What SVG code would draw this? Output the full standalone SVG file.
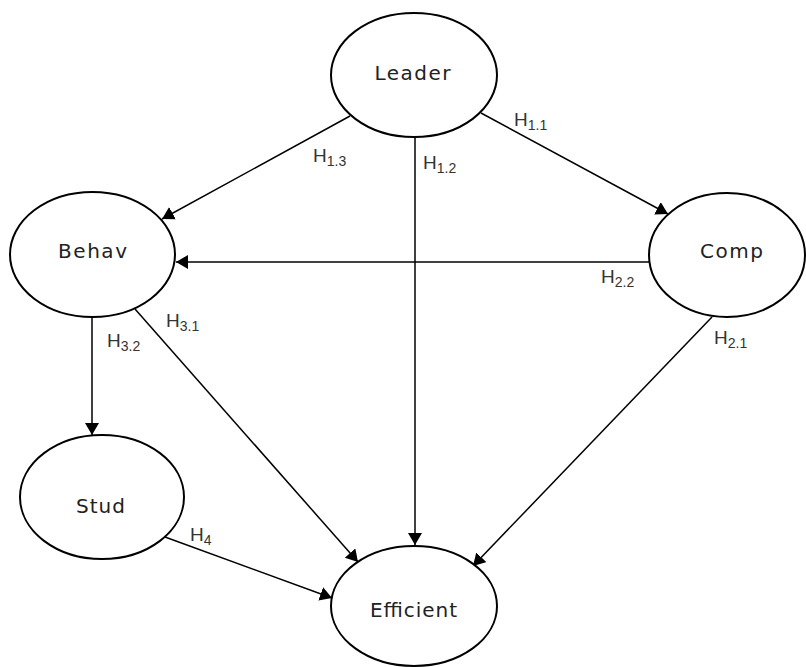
<svg xmlns="http://www.w3.org/2000/svg" width="806" height="667" viewBox="0 0 806 667">
<style>
.node ellipse{fill:#fff;stroke:#000;stroke-width:2}
.node text{font-family:"DejaVu Sans",sans-serif;font-size:20px;fill:#222;text-anchor:middle}
.edge{stroke:#000;stroke-width:1.5;fill:none;marker-end:url(#arr)}
.lbl{font-family:"Liberation Sans",Arial,sans-serif;font-size:19px;fill:#333}
.sub{font-size:14px}
</style>
<defs>
<marker id="arr" markerUnits="userSpaceOnUse" markerWidth="13" markerHeight="15" refX="12" refY="7" orient="auto">
<path d="M0,0 L12,7 L0,14 z" fill="#000"/>
</marker>
</defs>
<rect width="806" height="667" fill="#fff"/>
<g id="connectors">
<line class="edge" x1="350" y1="116" x2="162" y2="219"/>
<line class="edge" x1="415" y1="137" x2="415" y2="545"/>
<line class="edge" x1="481" y1="113" x2="668" y2="214"/>
<line class="edge" x1="649" y1="262" x2="176" y2="262"/>
<line class="edge" x1="712" y1="317" x2="473" y2="566"/>
<line class="edge" x1="92" y1="317" x2="92" y2="435"/>
<line class="edge" x1="135" y1="309" x2="358" y2="562"/>
<line class="edge" x1="165" y1="537" x2="332" y2="598"/>
</g>
<g id="labels">
<text class="lbl" x="313" y="162">H<tspan class="sub" dy="4">1.3</tspan></text>
<text class="lbl" x="423" y="169">H<tspan class="sub" dy="4">1.2</tspan></text>
<text class="lbl" x="514" y="126">H<tspan class="sub" dy="4">1.1</tspan></text>
<text class="lbl" x="601" y="283">H<tspan class="sub" dy="4">2.2</tspan></text>
<text class="lbl" x="714" y="344">H<tspan class="sub" dy="4">2.1</tspan></text>
<text class="lbl" x="166" y="327">H<tspan class="sub" dy="4">3.1</tspan></text>
<text class="lbl" x="107" y="347">H<tspan class="sub" dy="4">3.2</tspan></text>
<text class="lbl" x="190" y="541">H<tspan class="sub" dy="4">4</tspan></text>
</g>
<g id="leader" class="node">
<ellipse cx="414" cy="75" rx="83" ry="62"/>
<text x="412.5" y="80" textLength="76" lengthAdjust="spacing">Leader</text>
</g>
<g id="behav" class="node">
<ellipse cx="92.5" cy="254.5" rx="82.5" ry="62.5"/>
<text x="92.5" y="258" textLength="69" lengthAdjust="spacing">Behav</text>
</g>
<g id="comp" class="node">
<ellipse cx="727" cy="255" rx="78" ry="62"/>
<text x="731.5" y="258" textLength="63" lengthAdjust="spacing">Comp</text>
</g>
<g id="stud" class="node">
<ellipse cx="102" cy="497" rx="82" ry="62"/>
<text x="100.5" y="513" textLength="49" lengthAdjust="spacing">Stud</text>
</g>
<g id="efficient" class="node">
<ellipse cx="414" cy="606" rx="83" ry="60"/>
<text x="413.5" y="617" textLength="87" lengthAdjust="spacing">Efficient</text>
</g>
</svg>
